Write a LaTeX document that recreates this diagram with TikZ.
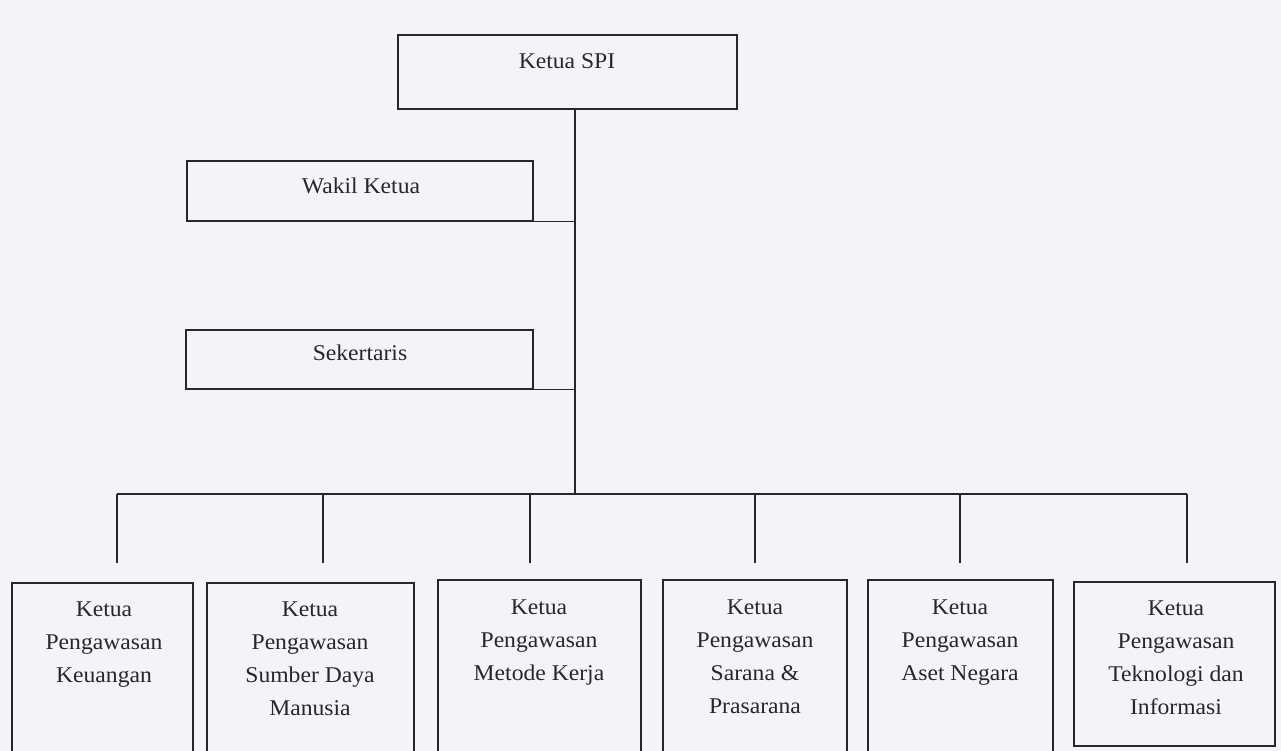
\documentclass[tikz,border=0pt]{standalone}
\usepackage{fontspec}
\setmainfont{Liberation Serif}[FakeStretch=1.05]
\definecolor{paper}{RGB}{244,244,247}
\definecolor{ink}{RGB}{38,38,44}
\begin{document}
\begin{tikzpicture}[x=1pt,y=-1pt,
  line/.style={draw=ink,line width=1.6pt},
  lbl/.style={text=ink,inner sep=0pt,anchor=north,align=center,font=\fontsize{22.5}{33}\selectfont},
  boxnode/.style={inner sep=0pt,anchor=north west}]
\fill[paper] (0,0) rectangle (1281,751);
\useasboundingbox (0,0) rectangle (1281,751);
% top boxes
\node[boxnode,draw=ink,line width=1.6pt,minimum width=339pt,minimum height=74pt] (spi) at (397,34) {};
\node[lbl] (spit) at (567,53) {Ketua SPI};
\node[boxnode,draw=ink,line width=1.6pt,minimum width=346pt,minimum height=60pt] (wakil) at (186,160) {};
\node[lbl] (wakilt) at (361,178) {Wakil Ketua};
\node[boxnode,draw=ink,line width=1.6pt,minimum width=347pt,minimum height=59pt] (sek) at (185,329) {};
\node[lbl] (sekt) at (360,345) {Sekertaris};
% trunk and bus
\coordinate (ttop) at (575,108);
\coordinate (j) at (575,494);
\draw[line] (ttop) -- (j);
\draw[line] (wakil.south east) -- (wakil.south east -| j);
\draw[line] (sek.south east) -- (sek.south east -| j);
\coordinate (b1) at (117,494);
\coordinate (b2) at (323,494);
\coordinate (b3) at (530,494);
\coordinate (b4) at (755,494);
\coordinate (b5) at (960,494);
\coordinate (b6) at (1187,494);
\draw[line] (b1) -- (b6);
\foreach \i in {1,...,6}{
  \draw[line] (b\i) -- ++(0,69) coordinate (d\i);
}
% bottom boxes (open at the bottom edge of the sheet)
\coordinate (k1) at (12,583);
\coordinate (k2) at (207,583);
\coordinate (k3) at (438,580);
\coordinate (k4) at (663,580);
\coordinate (k5) at (868,580);
\draw[line] (12,760) -- (k1) -- (193,583) -- (193,760);
\draw[line] (207,760) -- (k2) -- (414,583) -- (414,760);
\draw[line] (438,760) -- (k3) -- (641,580) -- (641,760);
\draw[line] (663,760) -- (k4) -- (847,580) -- (847,760);
\draw[line] (868,760) -- (k5) -- (1053,580) -- (1053,760);
\node[boxnode,draw=ink,line width=1.6pt,minimum width=201pt,minimum height=164pt] (k6) at (1073,581) {};
\node[lbl] (t1) at (104,602) {Ketua\\Pengawasan\\Keuangan};
\node[lbl] (t2) at (310,602) {Ketua\\Pengawasan\\Sumber Daya\\Manusia};
\node[lbl] (t3) at (539,600) {Ketua\\Pengawasan\\Metode Kerja};
\node[lbl] (t4) at (755,600) {Ketua\\Pengawasan\\Sarana~\&\\Prasarana};
\node[lbl] (t5) at (960,600) {Ketua\\Pengawasan\\Aset Negara};
\node[lbl] (t6) at (1176,601) {Ketua\\Pengawasan\\Teknologi dan\\Informasi};
\end{tikzpicture}
\end{document}
